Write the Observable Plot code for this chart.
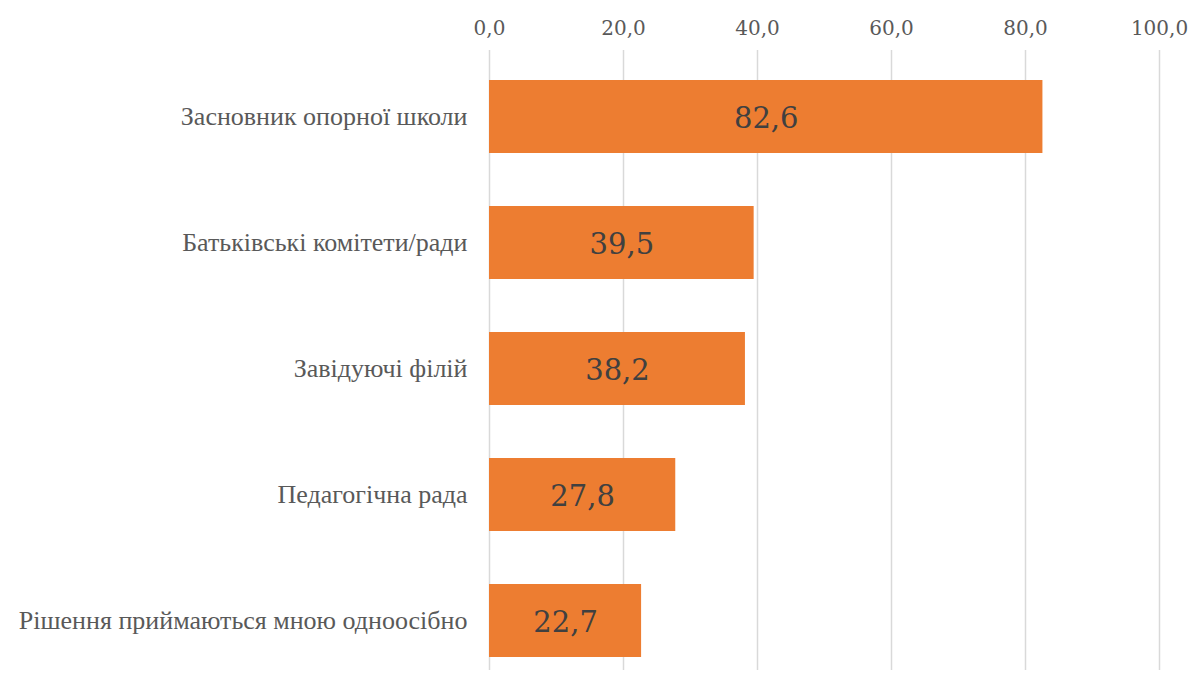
<!DOCTYPE html>
<html>
<head>
<meta charset="utf-8">
<script src="https://cdn.jsdelivr.net/npm/d3@7"></script>
<script src="https://cdn.jsdelivr.net/npm/@observablehq/plot@0.6"></script>
<style>
  html, body { margin: 0; padding: 0; background: #fff; }
  #chart svg { display: block; }
</style>
</head>
<body>
<div id="chart"></div>
<script>
const categories = [
  "Засновник опорної школи",
  "Батьківські комітети/ради",
  "Завідуючі філій",
  "Педагогічна рада",
  "Рішення приймаються мною одноосібно"
];
const values = [82.6, 39.5, 38.2, 27.8, 22.7];
const xTicks = [0, 20, 40, 60, 80, 100];

const data = categories.map((c, i) => ({category: c, value: values[i]}));
const fmt = v => d3.format(".1f")(v).replace(".", ",");

const chart = Plot.plot({
  width: 1194,
  height: 679,
  marginTop: 50,
  marginBottom: 9,
  marginLeft: 489,
  marginRight: 35,
  style: {background: "#fff", overflow: "visible"},
  x: {domain: [0, 100]},
  y: {domain: categories, paddingInner: 0.42, paddingOuter: 0.17, align: 0.7},
  marks: [
    Plot.gridX(xTicks, {stroke: "#d9d9d9", strokeOpacity: 1, strokeWidth: 1.5}),
    Plot.barX(data, {y: "category", x: "value", fill: "#ed7d31"}),
    Plot.text(data, {
      y: "category",
      x: d => d.value / 2,
      text: d => fmt(d.value),
      fill: "#404040",
      fontSize: 29,
      fontFamily: "DejaVu Serif",
      dy: 2
    }),
    Plot.axisX(xTicks, {
      anchor: "top",
      tickSize: 0,
      tickPadding: 16,
      tickFormat: fmt,
      fontSize: 20,
      fontFamily: "DejaVu Serif",
      fill: "#595959",
      label: null
    }),
    Plot.axisY({
      tickSize: 0,
      tickPadding: 22,
      fontSize: 26,
      fontFamily: "Liberation Serif",
      fill: "#595959",
      label: null
    })
  ]
});
document.getElementById("chart").appendChild(chart);
</script>
</body>
</html>
